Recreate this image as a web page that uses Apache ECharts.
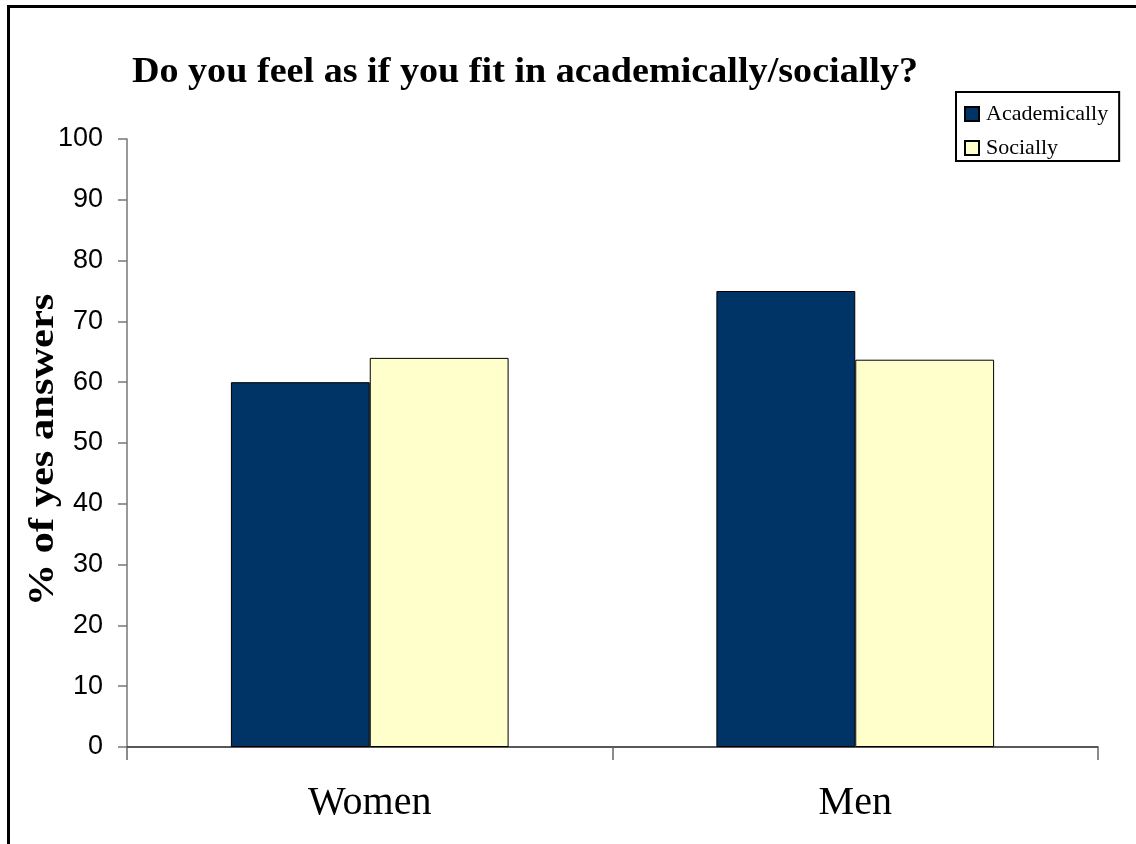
<!DOCTYPE html>
<html>
<head>
<meta charset="utf-8">
<script src="https://cdn.jsdelivr.net/npm/echarts@6/dist/echarts.min.js"></script>
<style>
  html, body { margin: 0; padding: 0; background: #fff; }
  #chart { width: 1136px; height: 844px; }
</style>
</head>
<body>
<div id="chart"></div>
<script>
// Survey answers: share of "yes" answers by group
const groups = ['Women', 'Men'];
const academically = [60, 75];
const socially = [64, 63.7];
const yTicks = { min: 0, max: 100, interval: 10 };

const chart = echarts.init(document.getElementById('chart'), null, { renderer: 'canvas' });

const serif = '"Liberation Serif", "Times New Roman", serif';
const sans = '"Liberation Sans", Arial, sans-serif';

chart.setOption({
  backgroundColor: '#ffffff',
  animation: false,
  legend: {
    orient: 'vertical',
    left: 956,
    top: 92,
    padding: [11, 11, 2, 8],
    borderColor: '#000',
    borderWidth: 2,
    itemWidth: 14,
    itemHeight: 14,
    itemGap: 12,
    icon: 'rect',
    textStyle: { fontFamily: serif, fontSize: 22, color: '#000', padding: [0, 0, 0, 2] },
    data: ['Academically', 'Socially']
  },
  grid: { left: 127, right: 38, top: 139, bottom: 97 },
  xAxis: {
    type: 'category',
    data: groups,
    boundaryGap: true,
    axisLine: { lineStyle: { color: '#222', width: 1.5 } },
    axisTick: { show: true, length: 13, lineStyle: { color: '#666', width: 1.5 } },
    axisLabel: { margin: 36, fontFamily: serif, fontSize: 40, color: '#000' }
  },
  yAxis: {
    type: 'value',
    min: yTicks.min,
    max: yTicks.max,
    interval: yTicks.interval,
    axisLine: { show: true, lineStyle: { color: '#777', width: 1.5 } },
    axisTick: { show: true, length: 9, lineStyle: { color: '#777', width: 1.5 } },
    splitLine: { show: false },
    axisLabel: { margin: 24, fontFamily: sans, fontSize: 27, color: '#000' }
  },
  graphic: [
    // frame edges (top and left)
    { type: 'rect', shape: { x: 7, y: 5, width: 1140, height: 3 }, style: { fill: '#000' } },
    { type: 'rect', shape: { x: 7, y: 5, width: 3, height: 850 }, style: { fill: '#000' } },
    // chart title
    {
      type: 'text',
      x: 525, y: 73,
      scaleX: 1.09,
      style: {
        text: 'Do you feel as if you fit in academically/socially?',
        fontFamily: serif, fontWeight: 'bold', fontSize: 35, fill: '#000',
        textAlign: 'center', textVerticalAlign: 'middle'
      }
    },
    // value axis title
    {
      type: 'text',
      x: 44, y: 450,
      rotation: Math.PI / 2,
      scaleX: 1.18,
      style: {
        text: '% of yes answers',
        fontFamily: serif, fontWeight: 'bold', fontSize: 36, fill: '#000',
        textAlign: 'center', textVerticalAlign: 'middle'
      }
    }
  ],
  series: [
    {
      name: 'Academically',
      type: 'bar',
      data: academically,
      barWidth: '28.6%',
      barGap: '0%',
      itemStyle: { color: '#003366', borderColor: '#000', borderWidth: 1 }
    },
    {
      name: 'Socially',
      type: 'bar',
      data: socially,
      barWidth: '28.6%',
      itemStyle: { color: '#FFFFCC', borderColor: '#000', borderWidth: 1 }
    }
  ]
});
</script>
</body>
</html>
